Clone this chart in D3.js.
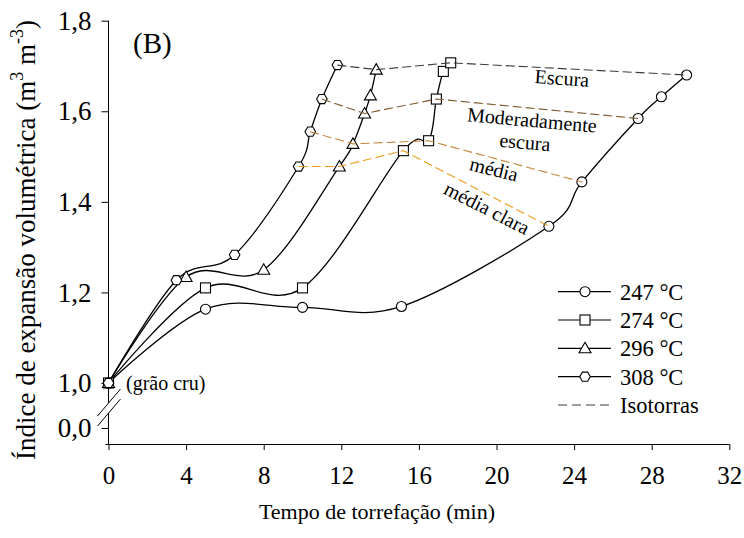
<!DOCTYPE html>
<html>
<head>
<meta charset="utf-8">
<script src="https://cdn.jsdelivr.net/npm/d3@7"></script>
<style>
  body { margin: 0; background: #fff; }
  svg { display: block; }
</style>
</head>
<body>
<svg id="chart" width="744" height="538"></svg>
<script>
// Roasting time (min) and volumetric expansion index for each air temperature
const labels = ["247 °C", "274 °C", "296 °C", "308 °C"];
const time247 = [0, 5.0, 10.0, 15.1, 22.7, 24.4, 27.3, 28.5, 29.8];
const expan247 = [1.0, 1.163, 1.167, 1.169, 1.346, 1.444, 1.584, 1.632, 1.680];
const time274 = [0, 5.0, 10.0, 15.2, 16.5, 16.9, 17.26, 17.64];
const expan274 = [1.0, 1.210, 1.210, 1.513, 1.535, 1.627, 1.688, 1.707];
const time296 = [0, 4.0, 8.0, 11.9, 12.6, 13.2, 13.5, 13.8];
const expan296 = [1.0, 1.234, 1.250, 1.478, 1.528, 1.595, 1.635, 1.692];
const time308 = [0, 3.5, 6.5, 9.8, 10.4, 11.0, 11.8];
const expan308 = [1.0, 1.227, 1.283, 1.478, 1.555, 1.627, 1.702];

// Isotorras: index of the sample on each curve, ordered 308, 296, 274, 247 °C
const roastLevels = ["Escura", "Moderadamente escura", "média", "média clara"];
const idxEscura = [6, 7, 7, 8];
const idxModerada = [5, 5, 5, 6];
const idxMedia = [4, 4, 4, 5];
const idxMediaClara = [3, 3, 3, 4];

const xTicks = [0, 4, 8, 12, 16, 20, 24, 28, 32];
const yTicks = [0, 1.0, 1.2, 1.4, 1.6, 1.8];

const FONT = "Liberation Serif";
const svg = d3.select("#chart");
svg.append("rect").attr("width", 744).attr("height", 538).attr("fill", "#fff");

// x: minutes; y: broken axis, 0 below the break and 1.0–1.8 above it
const x = d3.scaleLinear().domain([0, 32]).range([108.5, 729.3]);
const y = d3.scaleLinear().domain([0, 1, 1.8]).range([428, 383, 20.7]);
const axisY = 444;

const mk = (t, v) => t.map((d, i) => ({ t: d, v: v[i] }));
const series = [
  { name: labels[0], pts: mk(time247, expan247), shape: "circle" },
  { name: labels[1], pts: mk(time274, expan274), shape: "square" },
  { name: labels[2], pts: mk(time296, expan296), shape: "triangle" },
  { name: labels[3], pts: mk(time308, expan308), shape: "hexagon" }
];

// ---- axes ----
const gx = svg.append("g").attr("transform", `translate(0,${axisY})`)
  .call(d3.axisBottom(x).tickValues(xTicks).tickSize(6).tickSizeOuter(0).tickPadding(16));
gx.select(".domain").attr("d", `M${x(0) - 3},0.5H${x(32)}`);
gx.selectAll("line").attr("stroke", "#000");
gx.selectAll("text").attr("font-size", 25).attr("fill", "#000");

const gy = svg.append("g").attr("transform", `translate(${x(0)},0)`)
  .call(d3.axisLeft(y).tickValues(yTicks).tickSize(7).tickPadding(10)
    .tickFormat(d => d3.format(".1f")(d).replace(".", ",")));
gy.select(".domain").remove();
gy.selectAll("line").attr("stroke", "#000");
gy.selectAll("text").attr("font-size", 27).attr("fill", "#000");

// y axis line with a gap for the break
const breakTop = 403, breakBot = 413;
svg.append("path")
  .attr("d", `M${x(0)},${y(1.8)}V${breakTop}M${x(0)},${breakBot}V${axisY}`)
  .attr("stroke", "#000").attr("fill", "none");
[breakTop, breakBot].forEach(c => {
  svg.append("line")
    .attr("x1", x(0) - 11).attr("y1", c + 13)
    .attr("x2", x(0) + 12).attr("y2", c - 14)
    .attr("stroke", "#000").attr("stroke-width", 1);
});

// ---- axis titles ----
svg.append("text").attr("x", 377).attr("y", 519).attr("text-anchor", "middle")
  .attr("font-size", 22).text("Tempo de torrefação (min)");

const yt = svg.append("text").attr("transform", "translate(35,240) rotate(-90)")
  .attr("text-anchor", "middle").attr("font-size", 27);
yt.append("tspan").text("Índice de expansão volumétrica (m");
yt.append("tspan").attr("font-size", 18).attr("dy", -12).text("3");
yt.append("tspan").attr("dy", 12).text(" m");
yt.append("tspan").attr("font-size", 18).attr("dy", -12).text("-3");
yt.append("tspan").attr("dy", 12).text(")");

svg.append("text").attr("x", 133).attr("y", 53).attr("font-size", 29).text("(B)");
svg.append("text").attr("x", 126).attr("y", 390).attr("font-size", 20).text("(grão cru)");

// ---- curves ----
const line = d3.line().x(d => x(d.t)).y(d => y(d.v)).curve(d3.curveCatmullRom.alpha(0));
svg.append("g").selectAll("path").data(series).join("path")
  .attr("d", d => line(d.pts))
  .attr("fill", "none").attr("stroke", "#000").attr("stroke-width", 1.3);

// marker symbols
function marker(sel, shape) {
  if (shape === "circle") {
    sel.append("circle").attr("r", 5);
  } else if (shape === "square") {
    sel.append("rect").attr("x", -5).attr("y", -5).attr("width", 10).attr("height", 10);
  } else if (shape === "triangle") {
    sel.append("path").attr("d", "M0,-6L6,4.5L-6,4.5Z");
  } else {
    const r = 5.3;
    const p = d3.range(6).map(i => [r * Math.cos(i * Math.PI / 3), r * Math.sin(i * Math.PI / 3)]);
    sel.append("path").attr("d", "M" + p.join("L") + "Z");
  }
  sel.selectAll("*").attr("fill", "#fff").attr("stroke", "#000").attr("stroke-width", 1.1);
}

series.forEach(s => {
  svg.append("g").selectAll("g").data(s.pts).join("g")
    .attr("transform", d => `translate(${x(d.t)},${y(d.v)})`)
    .each(function () { marker(d3.select(this), s.shape); });
});

// ---- isotorras (drawn over the markers) ----
const order = [series[3], series[2], series[1], series[0]];
const isoIdx = [idxEscura, idxModerada, idxMedia, idxMediaClara];
const isoColors = ["#3c3c3c", "#7d5a30", "#c2873e", "#eb9c1e"];
const isoLine = d3.line().x(d => x(d.t)).y(d => y(d.v));
isoIdx.forEach((idx, k) => {
  const pts = idx.map((j, i) => order[i].pts[j]);
  svg.append("path").attr("d", isoLine(pts))
    .attr("fill", "none").attr("stroke", isoColors[k])
    .attr("stroke-width", 1.1).attr("stroke-dasharray", "9,4");
});

// roast level names along the isotorras
const isoText = [
  { text: "Escura", x: 562, y: 78, r: 4 },
  { text: "Moderadamente", x: 532, y: 120, r: 5 },
  { text: "escura", x: 525, y: 142, r: 5 },
  { text: "média", x: 494, y: 169, r: 14 },
  { text: "média clara", x: 487, y: 208, r: 27 }
];
svg.append("g").selectAll("text").data(isoText).join("text")
  .attr("transform", d => `translate(${d.x},${d.y}) rotate(${d.r})`)
  .attr("text-anchor", "middle").attr("dy", "0.35em")
  .attr("font-size", 20).text(d => d.text);

// ---- legend ----
const legRows = [291.7, 320, 348.3, 376.7, 405];
series.forEach((s, i) => {
  const g = svg.append("g").attr("transform", `translate(0,${legRows[i]})`);
  g.append("line").attr("x1", 558).attr("x2", 611).attr("stroke", "#000").attr("stroke-width", 1.2);
  const m = g.append("g").attr("transform", "translate(585,0)");
  marker(m, s.shape);
  g.append("text").attr("x", 620).attr("dy", "0.35em")
    .attr("font-size", 22.5).text(s.name);
});
const gIso = svg.append("g").attr("transform", `translate(0,${legRows[4]})`);
gIso.append("line").attr("x1", 558).attr("x2", 611).attr("stroke", "#3c3c3c")
  .attr("stroke-width", 1.1).attr("stroke-dasharray", "9,5");
gIso.append("text").attr("x", 620).attr("dy", "0.35em")
  .attr("font-size", 22.5).text("Isotorras");

// serif face for every label
svg.selectAll("g").attr("font-family", null);
svg.selectAll("text").attr("font-family", FONT).style("font-family", `'${FONT}'`).attr("fill", "#000");
</script>
</body>
</html>
